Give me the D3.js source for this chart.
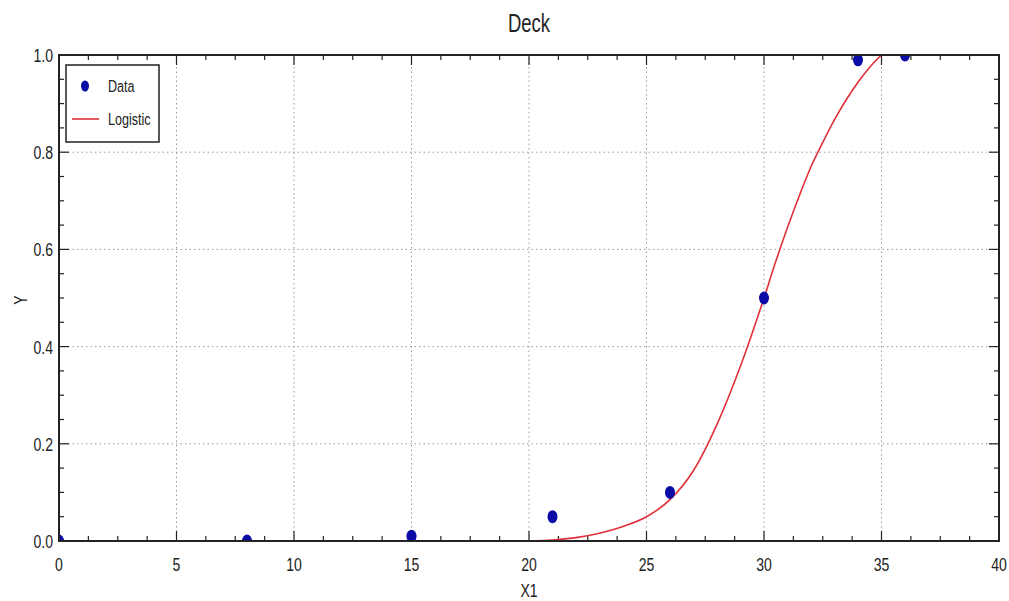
<!DOCTYPE html>
<html>
<head>
<meta charset="utf-8">
<script src="https://cdn.jsdelivr.net/npm/d3@7"></script>
<style>
  body { margin: 0; background: #fff; }
  text { font-family: "Liberation Sans", Arial, sans-serif; fill: #222; }
</style>
</head>
<body>
<div id="chart"></div>
<script>
// data
const dataX = [0, 8, 15, 21, 26, 30, 34, 36];
const dataY = [0, 0, 0.01, 0.05, 0.1, 0.5, 0.99, 1.0];

const fitX = [20, 21, 22, 23, 24, 25, 26, 27, 28, 29, 30, 30.5, 31, 31.5, 32, 32.5, 33, 33.5, 34, 34.5, 35];
const fitY = [0, 0.002, 0.007, 0.016, 0.03, 0.05, 0.085, 0.145, 0.24, 0.36, 0.5, 0.575, 0.645, 0.71, 0.77, 0.82, 0.867, 0.908, 0.944, 0.975, 1.0];

const xTicks = [0, 5, 10, 15, 20, 25, 30, 35, 40];
const yTicks = [0, 0.2, 0.4, 0.6, 0.8, 1.0];

const width = 1009, height = 601;
const margin = {top: 55, right: 10, bottom: 60, left: 59};
const squeeze = 0.74;

const svg = d3.select("#chart").append("svg")
    .attr("width", width)
    .attr("height", height);

const x = d3.scaleLinear().domain([0, 40]).range([margin.left, width - margin.right]);
const y = d3.scaleLinear().domain([0, 1]).range([height - margin.bottom, margin.top]);

const x0 = x.range()[0], x1 = x.range()[1];
const y0 = y.range()[0], y1 = y.range()[1];

// condensed text helper
function label(txt, px, py, size, anchor, rot) {
    return svg.append("text")
        .attr("transform", `translate(${px},${py}) rotate(${rot || 0}) scale(${squeeze},1)`)
        .attr("text-anchor", anchor)
        .attr("font-size", size)
        .text(txt);
}

svg.append("defs").append("clipPath").attr("id", "plotclip")
    .append("rect")
    .attr("x", x0).attr("y", y1)
    .attr("width", x1 - x0).attr("height", y0 - y1);

// grid
const grid = svg.append("g").attr("stroke", "#9a9a9a").attr("stroke-width", 1).attr("stroke-dasharray", "1.5,3");
grid.selectAll(".gx").data(xTicks.slice(1, -1)).enter().append("line")
    .attr("x1", d => x(d)).attr("x2", d => x(d))
    .attr("y1", y0).attr("y2", y1);
grid.selectAll(".gy").data(yTicks.slice(1, -1)).enter().append("line")
    .attr("x1", x0).attr("x2", x1)
    .attr("y1", d => y(d)).attr("y2", d => y(d));

// inward ticks on all four sides
const xMinor = d3.range(0, 40.01, 1.25);
const yMinor = d3.range(0, 1.001, 0.05);
const ticks = svg.append("g").attr("stroke", "#222").attr("stroke-width", 1.2);
xMinor.forEach(v => {
    const len = Math.abs(v % 5) < 1e-6 ? 10 : 5;
    ticks.append("line").attr("x1", x(v)).attr("x2", x(v)).attr("y1", y0).attr("y2", y0 - len);
    ticks.append("line").attr("x1", x(v)).attr("x2", x(v)).attr("y1", y1).attr("y2", y1 + len);
});
yMinor.forEach(v => {
    const len = Math.abs(Math.round(v * 100) % 20) < 1e-6 ? 10 : 5;
    ticks.append("line").attr("x1", x0).attr("x2", x0 + len).attr("y1", y(v)).attr("y2", y(v));
    ticks.append("line").attr("x1", x1).attr("x2", x1 - len).attr("y1", y(v)).attr("y2", y(v));
});

// curve
const line = d3.line()
    .x((d, i) => x(fitX[i]))
    .y(d => y(d))
    .curve(d3.curveMonotoneX);

const plot = svg.append("g").attr("clip-path", "url(#plotclip)");
plot.append("path")
    .datum(fitY)
    .attr("d", line)
    .attr("fill", "none")
    .attr("stroke", "#e0303a")
    .attr("stroke-width", 1.6);

plot.selectAll(".dot").data(dataX).enter().append("ellipse")
    .attr("cx", d => x(d))
    .attr("cy", (d, i) => y(dataY[i]))
    .attr("rx", 5)
    .attr("ry", 6.5)
    .attr("fill", "#0b0ba6");

// frame
svg.append("rect")
    .attr("x", x0).attr("y", y1)
    .attr("width", x1 - x0).attr("height", y0 - y1)
    .attr("fill", "none")
    .attr("stroke", "#222")
    .attr("stroke-width", 2);

// tick labels
xTicks.forEach(v => label(v, x(v), y0 + 30, 19, "middle"));
yTicks.forEach(v => label(v.toFixed(1), x0 - 6, y(v) + 7, 19, "end"));

// titles
label("Deck", (x0 + x1) / 2, 32, 25, "middle");
label("X1", (x0 + x1) / 2, 597, 19, "middle");
label("Y", 27, 300, 19, "middle", -90);

// legend
const lg = svg.append("g");
lg.append("rect")
    .attr("x", 66).attr("y", 65)
    .attr("width", 93).attr("height", 77)
    .attr("fill", "#fff")
    .attr("stroke", "#222")
    .attr("stroke-width", 1.5);
lg.append("ellipse")
    .attr("cx", 85).attr("cy", 86)
    .attr("rx", 4).attr("ry", 5.5)
    .attr("fill", "#0b0ba6");
lg.append("line")
    .attr("x1", 72).attr("x2", 99)
    .attr("y1", 119).attr("y2", 119)
    .attr("stroke", "#e0303a")
    .attr("stroke-width", 1.6);
label("Data", 108, 92, 17, "start");
label("Logistic", 108, 125, 17, "start");
</script>
</body>
</html>
